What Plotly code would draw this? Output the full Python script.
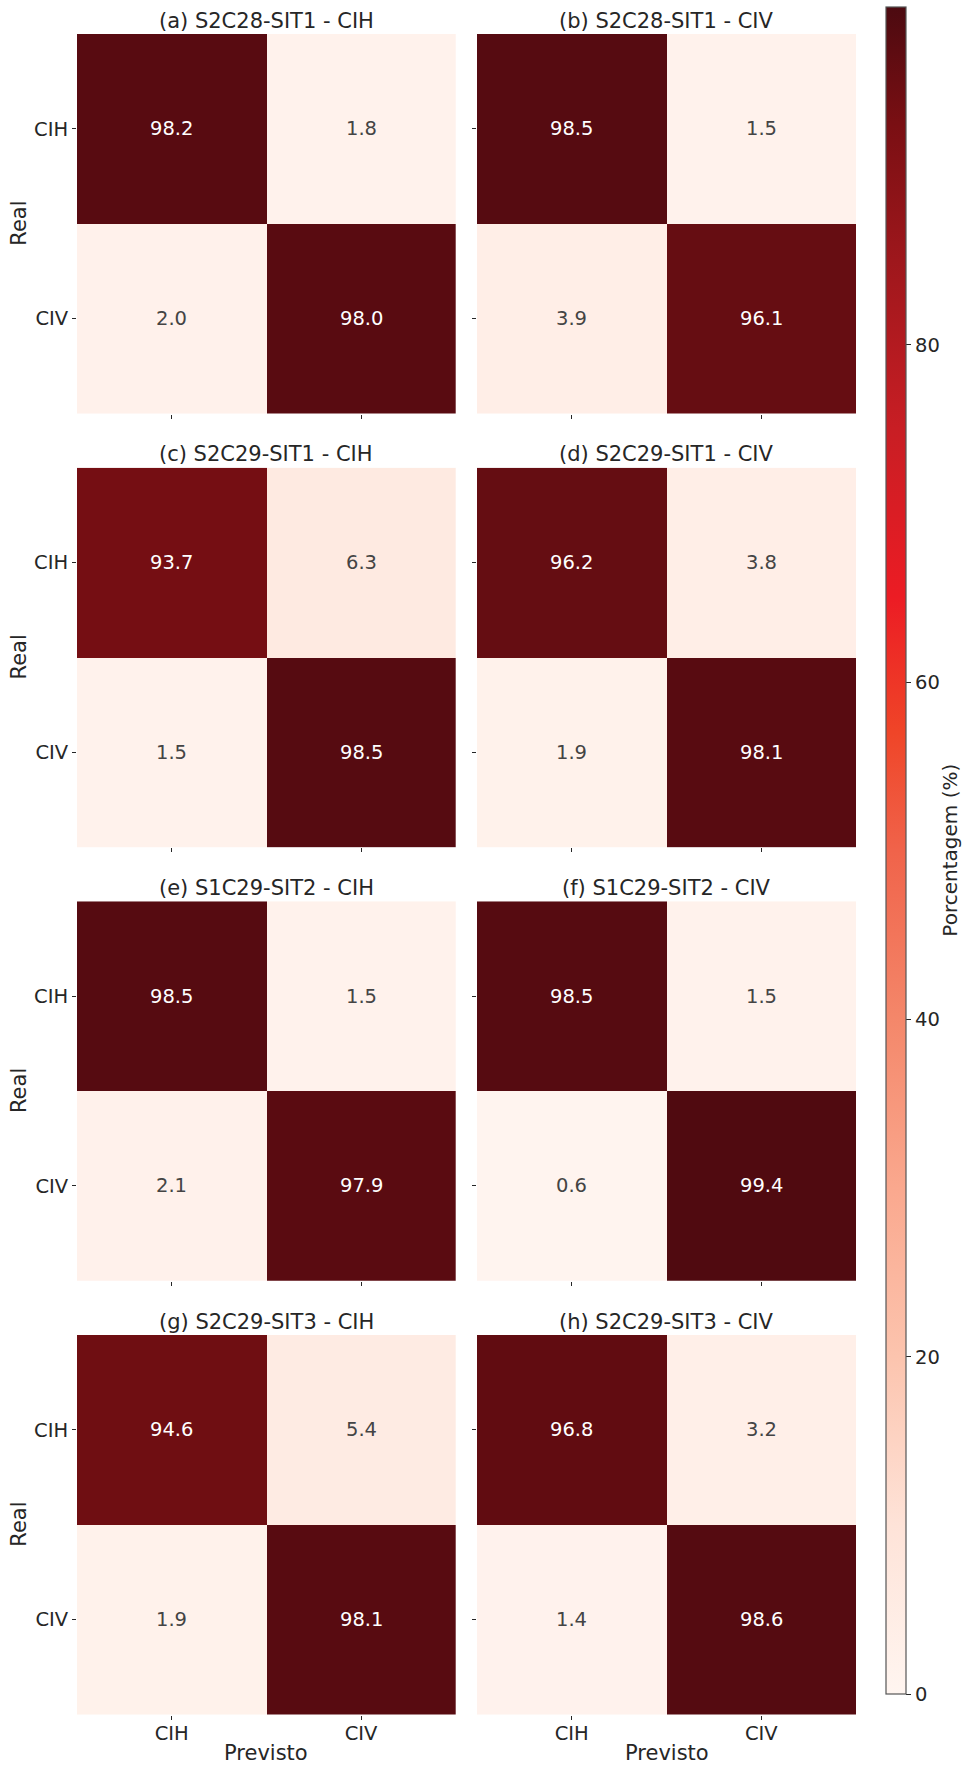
import plotly.graph_objects as go

# Class labels (rows = real, columns = predicted)
classes = ["CIH", "CIV"]

# Panel titles, in reading order
panel_titles = [
    "(a) S2C28-SIT1 - CIH", "(b) S2C28-SIT1 - CIV",
    "(c) S2C29-SIT1 - CIH", "(d) S2C29-SIT1 - CIV",
    "(e) S1C29-SIT2 - CIH", "(f) S1C29-SIT2 - CIV",
    "(g) S2C29-SIT3 - CIH", "(h) S2C29-SIT3 - CIV",
]

# Confusion matrices in percent
cm_a = [[98.2, 1.8], [2.0, 98.0]]
cm_b = [[98.5, 1.5], [3.9, 96.1]]
cm_c = [[93.7, 6.3], [1.5, 98.5]]
cm_d = [[96.2, 3.8], [1.9, 98.1]]
cm_e = [[98.5, 1.5], [2.1, 97.9]]
cm_f = [[98.5, 1.5], [0.6, 99.4]]
cm_g = [[94.6, 5.4], [1.9, 98.1]]
cm_h = [[96.8, 3.2], [1.4, 98.6]]
matrices = [cm_a, cm_b, cm_c, cm_d, cm_e, cm_f, cm_g, cm_h]

cbar_ticks = [0, 20, 40, 60, 80]

W, H = 965, 1767
FONT = "DejaVu Sans"
INK = "#262626"

reds = [
    [0.00, "#fff5f0"],
    [0.10, "#fee3d8"],
    [0.20, "#fcc4ae"],
    [0.30, "#faa88e"],
    [0.40, "#f4876a"],
    [0.50, "#f0634a"],
    [0.57, "#ef4528"],
    [0.65, "#ec1c24"],
    [0.75, "#c81e24"],
    [0.85, "#9e171c"],
    [0.93, "#7a0f13"],
    [1.00, "#4c0a10"],
]

# pixel geometry of the grid
col_px = [(77, 455.7), (477, 856)]
row_top = [34, 467.7, 901.3, 1335]
row_h = 379.5
cbar_top, cbar_bottom = 7.3, 1694


def px_x(p):
    return p / W


def px_y(p):
    return 1 - p / H


fig = go.Figure()
layout = {}
annotations = []

for i, (title, z) in enumerate(zip(panel_titles, matrices)):
    r, c = divmod(i, 2)
    n = i + 1
    xa = "x" if n == 1 else f"x{n}"
    ya = "y" if n == 1 else f"y{n}"
    xkey = "xaxis" if n == 1 else f"xaxis{n}"
    ykey = "yaxis" if n == 1 else f"yaxis{n}"
    x0, x1 = col_px[c]
    y0 = row_top[r]
    y1 = y0 + row_h

    fig.add_trace(go.Heatmap(
        z=z, x=classes, y=classes, xaxis=xa, yaxis=ya,
        zmin=0, zmax=100, colorscale=reds,
        showscale=(i == 0), hoverinfo="skip",
        colorbar=dict(
            x=px_x(885.5), xanchor="left", xref="paper", xpad=0,
            y=px_y(cbar_top), yanchor="top", ypad=0,
            len=(cbar_bottom - cbar_top) / H, lenmode="fraction",
            thickness=20, thicknessmode="pixels",
            outlinewidth=1.2, outlinecolor="#555555",
            tickvals=cbar_ticks, ticks="outside", ticklen=5,
            tickcolor=INK, tickfont=dict(family=FONT, size=19.5, color=INK),
        ),
    ))

    layout[xkey] = dict(
        domain=[px_x(x0), px_x(x1)], anchor=ya,
        type="category", categoryorder="array", categoryarray=classes,
        ticks="outside", ticklen=4, tickcolor=INK, tickwidth=1,
        ticklabelstandoff=-3,
        showticklabels=(r == 3), showgrid=False, zeroline=False, showline=False,
        tickfont=dict(family=FONT, size=19.5, color=INK), fixedrange=True,
    )
    layout[ykey] = dict(
        domain=[px_y(y1), px_y(y0)], anchor=xa,
        type="category", categoryorder="array", categoryarray=classes,
        autorange="reversed",
        ticks="outside", ticklen=4, tickcolor=INK, tickwidth=1,
        showticklabels=(c == 0), showgrid=False, zeroline=False, showline=False,
        tickfont=dict(family=FONT, size=19.5, color=INK), fixedrange=True,
    )

    # cell values
    for ri, row in enumerate(z):
        for ci, v in enumerate(row):
            annotations.append(dict(
                x=classes[ci], y=classes[ri], xref=xa, yref=ya,
                text=f"{v:.1f}", showarrow=False,
                font=dict(family=FONT, size=19.5,
                          color="#ffffff" if v > 50 else "#444444"),
            ))

    # panel title
    annotations.append(dict(
        x=px_x((x0 + x1) / 2), y=px_y(y0 - 13.5), xref="paper", yref="paper",
        text=title, showarrow=False, xanchor="center", yanchor="middle",
        font=dict(family=FONT, size=21, color=INK),
    ))

    if c == 0:
        annotations.append(dict(
            x=px_x(19), y=px_y(y0 + row_h / 2), xref="paper", yref="paper",
            text="Real", textangle=-90, showarrow=False,
            xanchor="center", yanchor="middle",
            font=dict(family=FONT, size=21, color=INK),
        ))
    if r == 3:
        annotations.append(dict(
            x=px_x((x0 + x1) / 2), y=px_y(1753), xref="paper", yref="paper",
            text="Previsto", showarrow=False,
            xanchor="center", yanchor="middle",
            font=dict(family=FONT, size=21, color=INK),
        ))

# colour bar label
annotations.append(dict(
    x=px_x(950), y=px_y((cbar_top + cbar_bottom) / 2), xref="paper", yref="paper",
    text="Porcentagem (%)", textangle=-90, showarrow=False,
    xanchor="center", yanchor="middle",
    font=dict(family=FONT, size=20, color=INK),
))

fig.update_layout(
    width=W, height=H,
    margin=dict(l=0, r=0, t=0, b=0),
    paper_bgcolor="white", plot_bgcolor="white",
    font=dict(family=FONT, color=INK),
    annotations=annotations,
    showlegend=False,
    **layout,
)

fig.write_html("out.html", config={"displayModeBar": False})
